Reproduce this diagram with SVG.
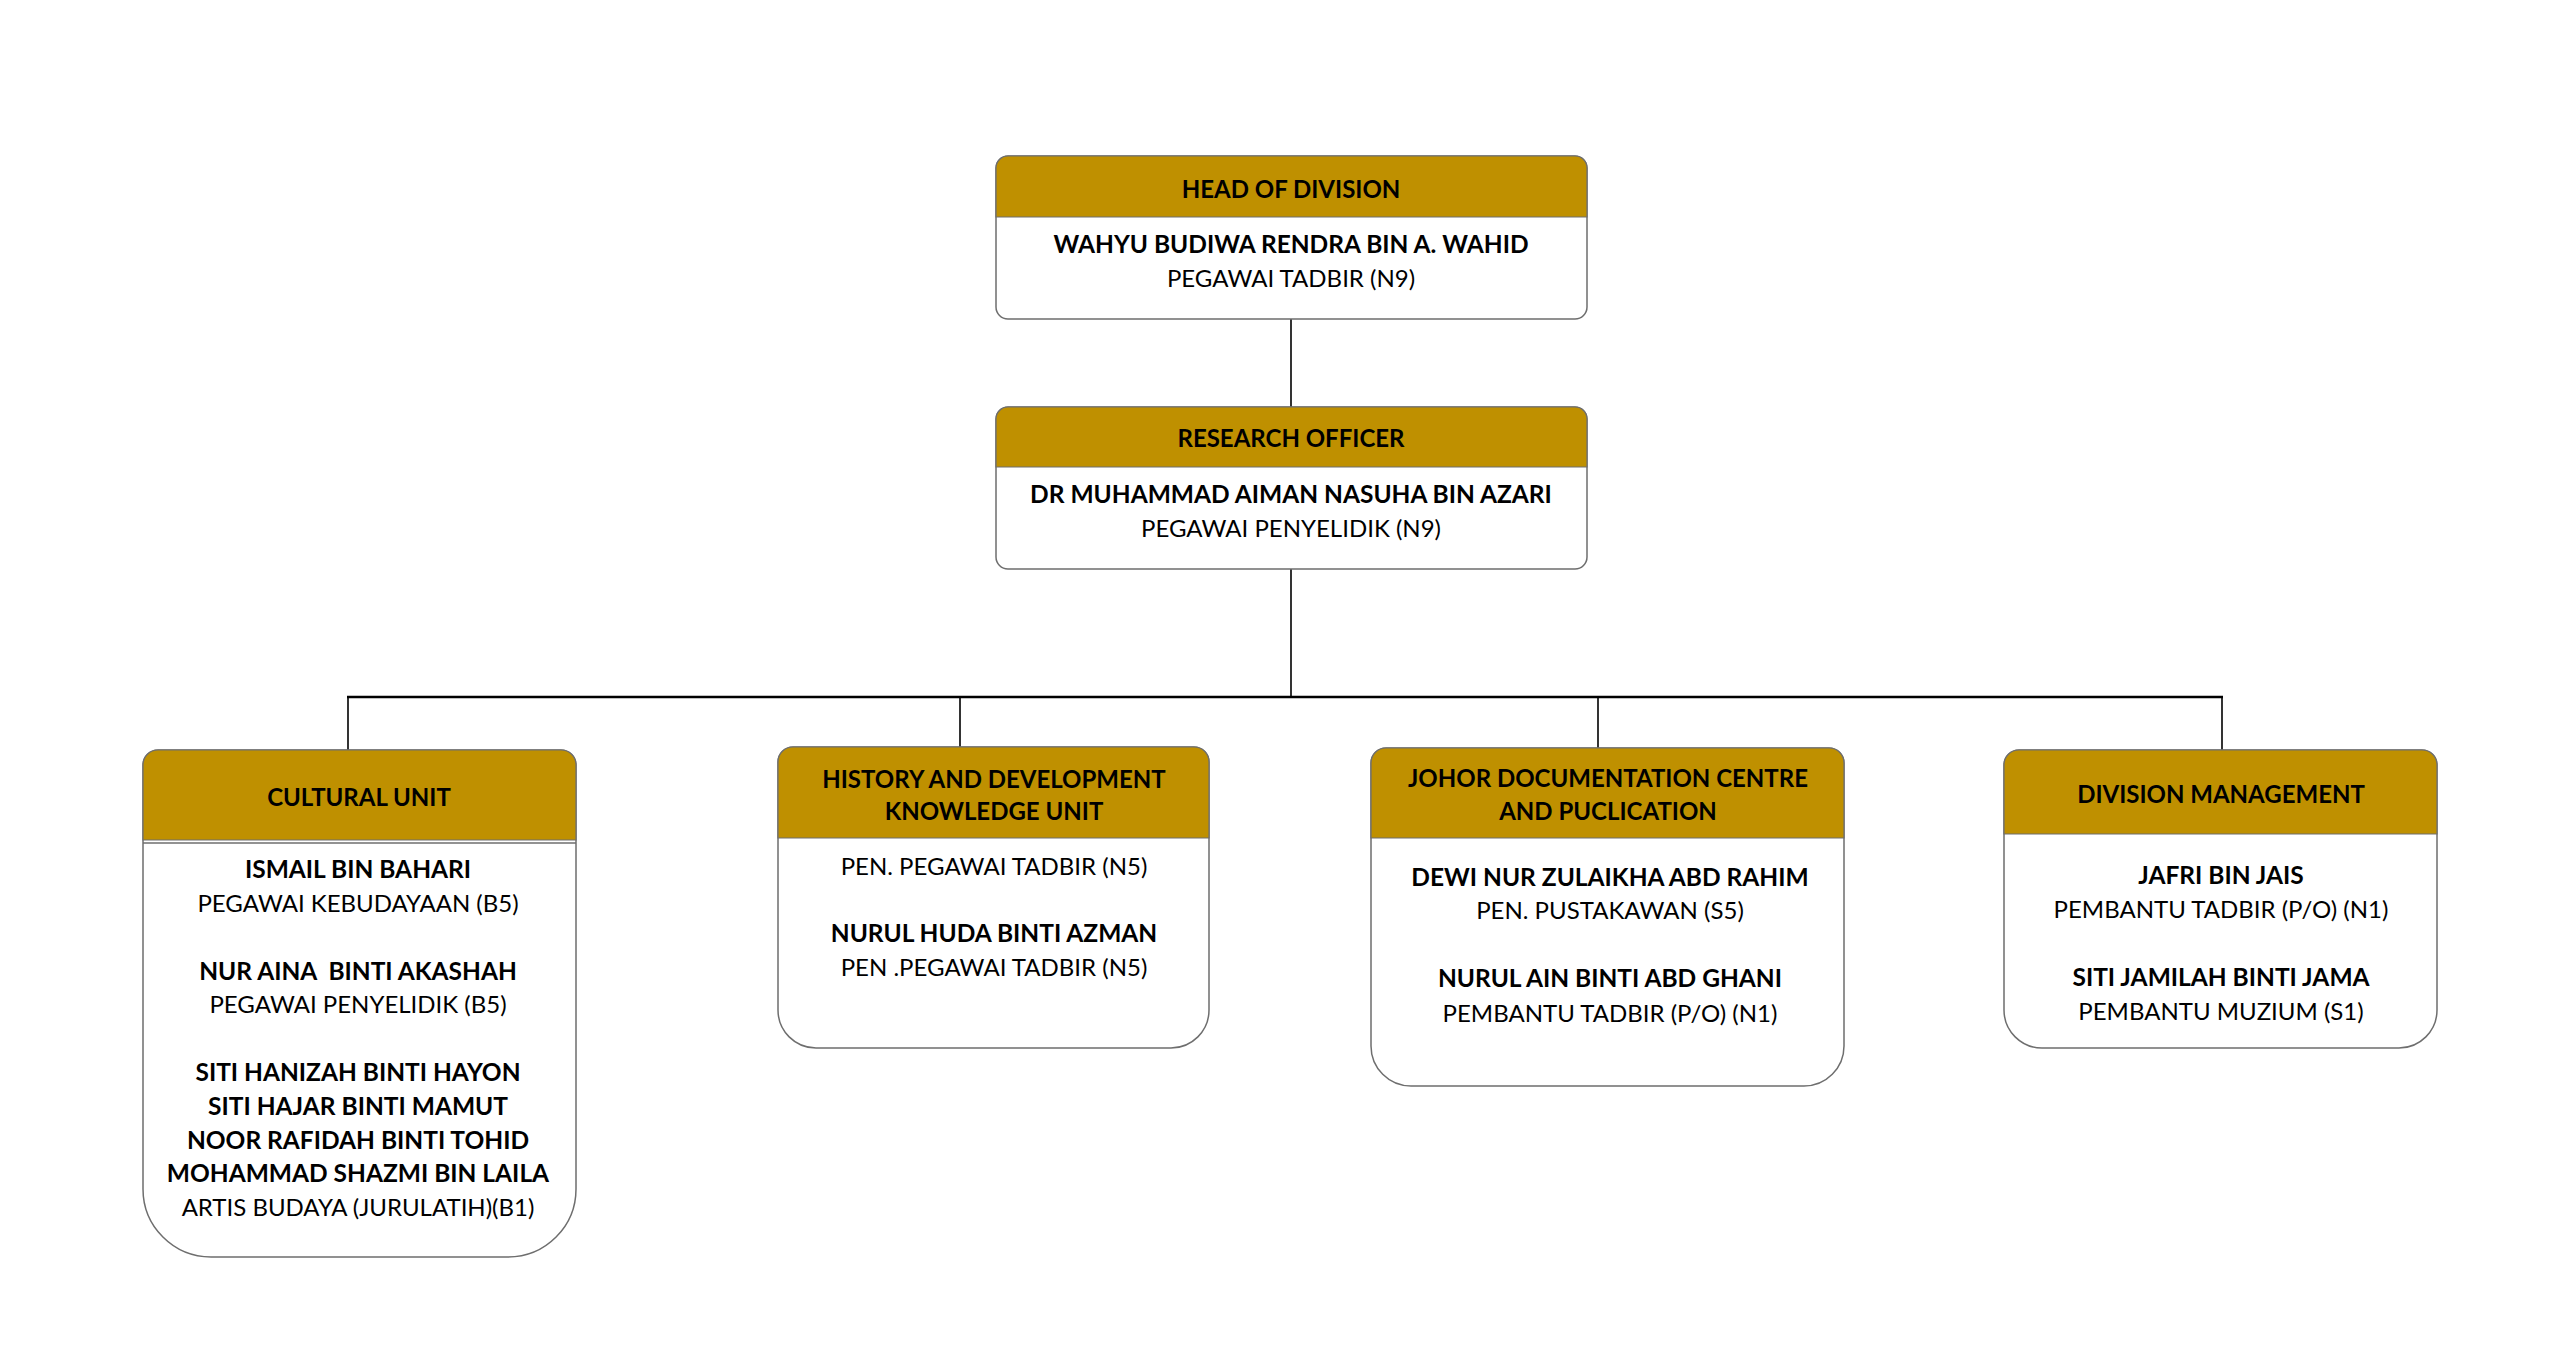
<svg xmlns="http://www.w3.org/2000/svg" width="2560" height="1346" viewBox="0 0 2560 1346">
<style>
.body{fill:#ffffff;stroke:#6e6e6e;stroke-width:1.5}
.head{fill:#bf9000;stroke:#6e6e6e;stroke-width:1.2}
.sep{stroke:#6e6e6e;stroke-width:1.5}
text{font-family:Lato,"Open Sans","Liberation Sans",sans-serif;font-size:24px;fill:#000;text-anchor:middle}
.b{font-weight:bold;font-size:24.5px}
.h{font-weight:bold;font-size:24px}
.conn line{stroke:#000;stroke-width:1.6}
.conn .bus{stroke-width:2.4}
</style>
<rect width="2560" height="1346" fill="#ffffff"/>
<g class="conn" id="connectors">
<line x1="1291" y1="319" x2="1291" y2="407"/>
<line x1="1291" y1="569" x2="1291" y2="697"/>
<line class="bus" x1="347" y1="697" x2="2223" y2="697"/>
<line x1="348" y1="697" x2="348" y2="750"/>
<line x1="960" y1="697" x2="960" y2="747"/>
<line x1="1598" y1="697" x2="1598" y2="748"/>
<line x1="2222" y1="697" x2="2222" y2="750"/>
</g>
<g id="head-of-division">
<path class="body" d="M996,168 A12,12 0 0 1 1008,156 H1575 A12,12 0 0 1 1587,168 V307 A12,12 0 0 1 1575,319 H1008 A12,12 0 0 1 996,307 Z"/>
<path class="head" d="M996,217 V168 A12,12 0 0 1 1008,156 H1575 A12,12 0 0 1 1587,168 V217 Z"/>
<text class="h" x="1291" y="198">HEAD OF DIVISION</text>
<text class="b" x="1291" y="253">WAHYU BUDIWA RENDRA BIN A. WAHID</text>
<text x="1291" y="287">PEGAWAI TADBIR (N9)</text>
</g>
<g id="research-officer">
<path class="body" d="M996,419 A12,12 0 0 1 1008,407 H1575 A12,12 0 0 1 1587,419 V557 A12,12 0 0 1 1575,569 H1008 A12,12 0 0 1 996,557 Z"/>
<path class="head" d="M996,467 V419 A12,12 0 0 1 1008,407 H1575 A12,12 0 0 1 1587,419 V467 Z"/>
<text class="h" x="1291" y="447">RESEARCH OFFICER</text>
<text class="b" x="1291" y="503">DR MUHAMMAD AIMAN NASUHA BIN AZARI</text>
<text x="1291" y="537">PEGAWAI PENYELIDIK (N9)</text>
</g>
<g id="cultural-unit">
<path class="body" d="M143,765 A15,15 0 0 1 158,750 H561 A15,15 0 0 1 576,765 V1189 A68,68 0 0 1 508,1257 H211 A68,68 0 0 1 143,1189 Z"/>
<path class="head" d="M143,840 V765 A15,15 0 0 1 158,750 H561 A15,15 0 0 1 576,765 V840 Z"/>
<line class="sep" x1="143" y1="843" x2="576" y2="843"/>
<text class="h" x="359" y="806">CULTURAL UNIT</text>
<text class="b" x="358" y="878">ISMAIL BIN BAHARI</text>
<text x="358" y="912">PEGAWAI KEBUDAYAAN (B5)</text>
<text class="b" x="358" y="980" xml:space="preserve">NUR AINA  BINTI AKASHAH</text>
<text x="358" y="1013">PEGAWAI PENYELIDIK (B5)</text>
<text class="b" x="358" y="1081">SITI HANIZAH BINTI HAYON</text>
<text class="b" x="358" y="1115">SITI HAJAR BINTI MAMUT</text>
<text class="b" x="358" y="1149">NOOR RAFIDAH BINTI TOHID</text>
<text class="b" x="358" y="1182">MOHAMMAD SHAZMI BIN LAILA</text>
<text x="358" y="1216">ARTIS BUDAYA (JURULATIH)(B1)</text>
</g>
<g id="history-unit">
<path class="body" d="M778,762 A15,15 0 0 1 793,747 H1194 A15,15 0 0 1 1209,762 V1010 A38,38 0 0 1 1171,1048 H816 A38,38 0 0 1 778,1010 Z"/>
<path class="head" d="M778,838 V762 A15,15 0 0 1 793,747 H1194 A15,15 0 0 1 1209,762 V838 Z"/>
<text class="h" x="994" y="788">HISTORY AND DEVELOPMENT</text>
<text class="h" x="994" y="820">KNOWLEDGE UNIT</text>
<text x="994" y="875">PEN. PEGAWAI TADBIR (N5)</text>
<text class="b" x="994" y="942">NURUL HUDA BINTI AZMAN</text>
<text x="994" y="976">PEN .PEGAWAI TADBIR (N5)</text>
</g>
<g id="johor-documentation">
<path class="body" d="M1371,763 A15,15 0 0 1 1386,748 H1829 A15,15 0 0 1 1844,763 V1046 A40,40 0 0 1 1804,1086 H1411 A40,40 0 0 1 1371,1046 Z"/>
<path class="head" d="M1371,838 V763 A15,15 0 0 1 1386,748 H1829 A15,15 0 0 1 1844,763 V838 Z"/>
<text class="h" x="1608" y="787">JOHOR DOCUMENTATION CENTRE</text>
<text class="h" x="1608" y="820">AND PUCLICATION</text>
<text class="b" x="1610" y="886">DEWI NUR ZULAIKHA ABD RAHIM</text>
<text x="1610" y="919">PEN. PUSTAKAWAN (S5)</text>
<text class="b" x="1610" y="987">NURUL AIN BINTI ABD GHANI</text>
<text x="1610" y="1022">PEMBANTU TADBIR (P/O) (N1)</text>
</g>
<g id="division-management">
<path class="body" d="M2004,765 A15,15 0 0 1 2019,750 H2422 A15,15 0 0 1 2437,765 V1010 A38,38 0 0 1 2399,1048 H2042 A38,38 0 0 1 2004,1010 Z"/>
<path class="head" d="M2004,834 V765 A15,15 0 0 1 2019,750 H2422 A15,15 0 0 1 2437,765 V834 Z"/>
<text class="h" x="2221" y="803">DIVISION MANAGEMENT</text>
<text class="b" x="2221" y="884">JAFRI BIN JAIS</text>
<text x="2221" y="918">PEMBANTU TADBIR (P/O) (N1)</text>
<text class="b" x="2221" y="986">SITI JAMILAH BINTI JAMA</text>
<text x="2221" y="1020">PEMBANTU MUZIUM (S1)</text>
</g>
</svg>
